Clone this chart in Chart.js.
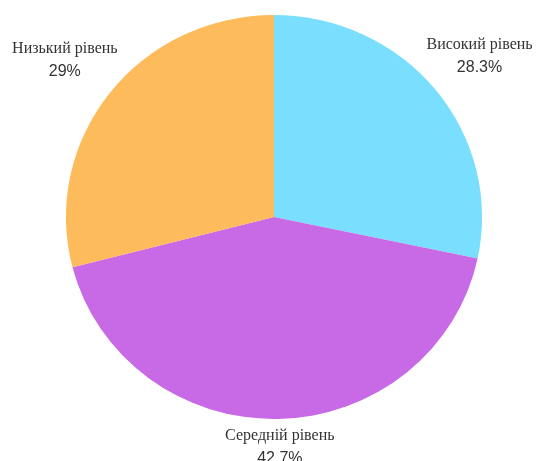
<!DOCTYPE html>
<html>
<head>
<meta charset="utf-8">
<script src="https://cdn.jsdelivr.net/npm/chart.js@4/dist/chart.umd.min.js"></script>
<style>
  html, body { margin: 0; padding: 0; background: #ffffff; }
  #wrap { width: 539px; height: 461px; }
</style>
</head>
<body>
<div id="wrap"><canvas id="c" width="539" height="461"></canvas></div>
<script>
const categories = ["Високий рівень", "Середній рівень", "Низький рівень"];
const values = [28.3, 42.7, 29];
const percentLabels = ["28.3%", "42.7%", "29%"];
const sliceColors = ["#7ADFFE", "#C86AE6", "#FDBB5B"];

const STRETCH_X = 1.03;

const stretchPlugin = {
  id: 'stretch',
  beforeDatasetsDraw(chart) {
    const arc = chart.getDatasetMeta(0).data[0];
    const ctx = chart.ctx;
    ctx.save();
    ctx.translate(arc.x, arc.y);
    ctx.scale(STRETCH_X, 1);
    ctx.translate(-arc.x, -arc.y);
  },
  afterDatasetsDraw(chart) {
    chart.ctx.restore();
  }
};

const labelPlugin = {
  id: 'outerLabels',
  afterDraw(chart) {
    const ctx = chart.ctx;
    const meta = chart.getDatasetMeta(0);
    ctx.save();
    ctx.fillStyle = '#333333';
    ctx.textAlign = 'center';
    ctx.textBaseline = 'alphabetic';
    meta.data.forEach((arc, i) => {
      const mid = (arc.startAngle + arc.endAngle) / 2;
      const D = arc.outerRadius + 55;
      const lx = arc.x + D * Math.cos(mid) * STRETCH_X;
      let ly = arc.y + D * Math.sin(mid);
      ly = Math.min(ly, chart.height - 15);
      ctx.font = '16px "Liberation Serif", "Times New Roman", serif';
      ctx.fillText(categories[i], lx, ly - 6);
      ctx.font = '16px "Liberation Sans", Arial, sans-serif';
      ctx.fillText(percentLabels[i], lx, ly + 17);
    });
    ctx.restore();
  }
};

new Chart(document.getElementById('c'), {
  type: 'pie',
  data: {
    labels: categories,
    datasets: [{
      data: values,
      backgroundColor: sliceColors,
      borderWidth: 0,
      hoverOffset: 0
    }]
  },
  options: {
    responsive: false,
    animation: false,
    rotation: 0,
    layout: { padding: { top: 15, bottom: 42, left: 72, right: 63 } },
    plugins: {
      legend: { display: false },
      tooltip: { enabled: false }
    }
  },
  plugins: [stretchPlugin, labelPlugin]
});
</script>
</body>
</html>
